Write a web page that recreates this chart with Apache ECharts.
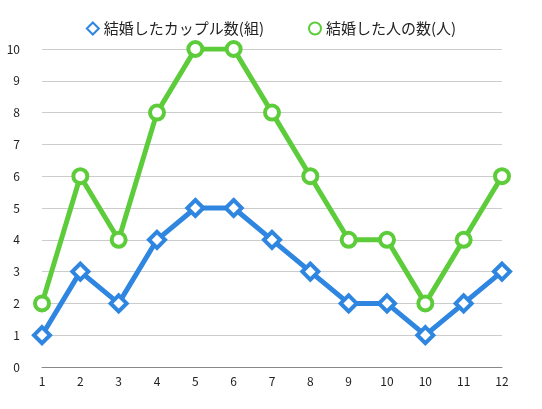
<!DOCTYPE html>
<html><head><meta charset="utf-8">
<script src="https://cdn.jsdelivr.net/npm/echarts@6/dist/echarts.min.js"></script>
<style>html,body{margin:0;background:#fff}#c{width:542px;height:409px}</style>
</head><body><div id="c"></div>
<script>
const months = ["1","2","3","4","5","6","7","8","9","10","10","11","12"];
const couples = [1,3,2,4,5,5,4,3,2,2,1,2,3];
const people = [2,6,4,8,10,10,8,6,4,4,2,4,6];

const chart = echarts.init(document.getElementById("c"));
chart.setOption({
  animation: false,
  textStyle: { fontFamily: "Noto Sans CJK JP" },
  legend: {
    top: 16, itemGap: 44, itemWidth: 12, itemHeight: 12,
    textStyle: { fontSize: 15, color: "#222" },
    data: [
      { name: "結婚したカップル数(組)", icon: "diamond" },
      { name: "結婚した人の数(人)", icon: "circle" }
    ]
  },
  grid: { left: 42, right: 40, top: 49, bottom: 42 },
  xAxis: {
    type: "category", data: months, boundaryGap: false,
    axisLine: { lineStyle: { color: "#888" } },
    axisTick: { show: false },
    axisLabel: { color: "#222", fontSize: 12 }
  },
  yAxis: {
    type: "value", min: 0, max: 10, interval: 1,
    axisLabel: { color: "#222", fontSize: 12, margin: 22 },
    splitLine: { lineStyle: { color: "#ccc" } }
  },
  series: [
    {
      name: "結婚したカップル数(組)", type: "line", data: couples,
      symbol: "diamond", symbolSize: 16,
      lineStyle: { width: 5, color: "#2f86e0" },
      itemStyle: { color: "#fff", borderColor: "#2f86e0", borderWidth: 4 }
    },
    {
      name: "結婚した人の数(人)", type: "line", data: people,
      symbol: "circle", symbolSize: 14,
      lineStyle: { width: 5, color: "#5dcc3a" },
      itemStyle: { color: "#fff", borderColor: "#5dcc3a", borderWidth: 4 }
    }
  ]
});
</script></body></html>
